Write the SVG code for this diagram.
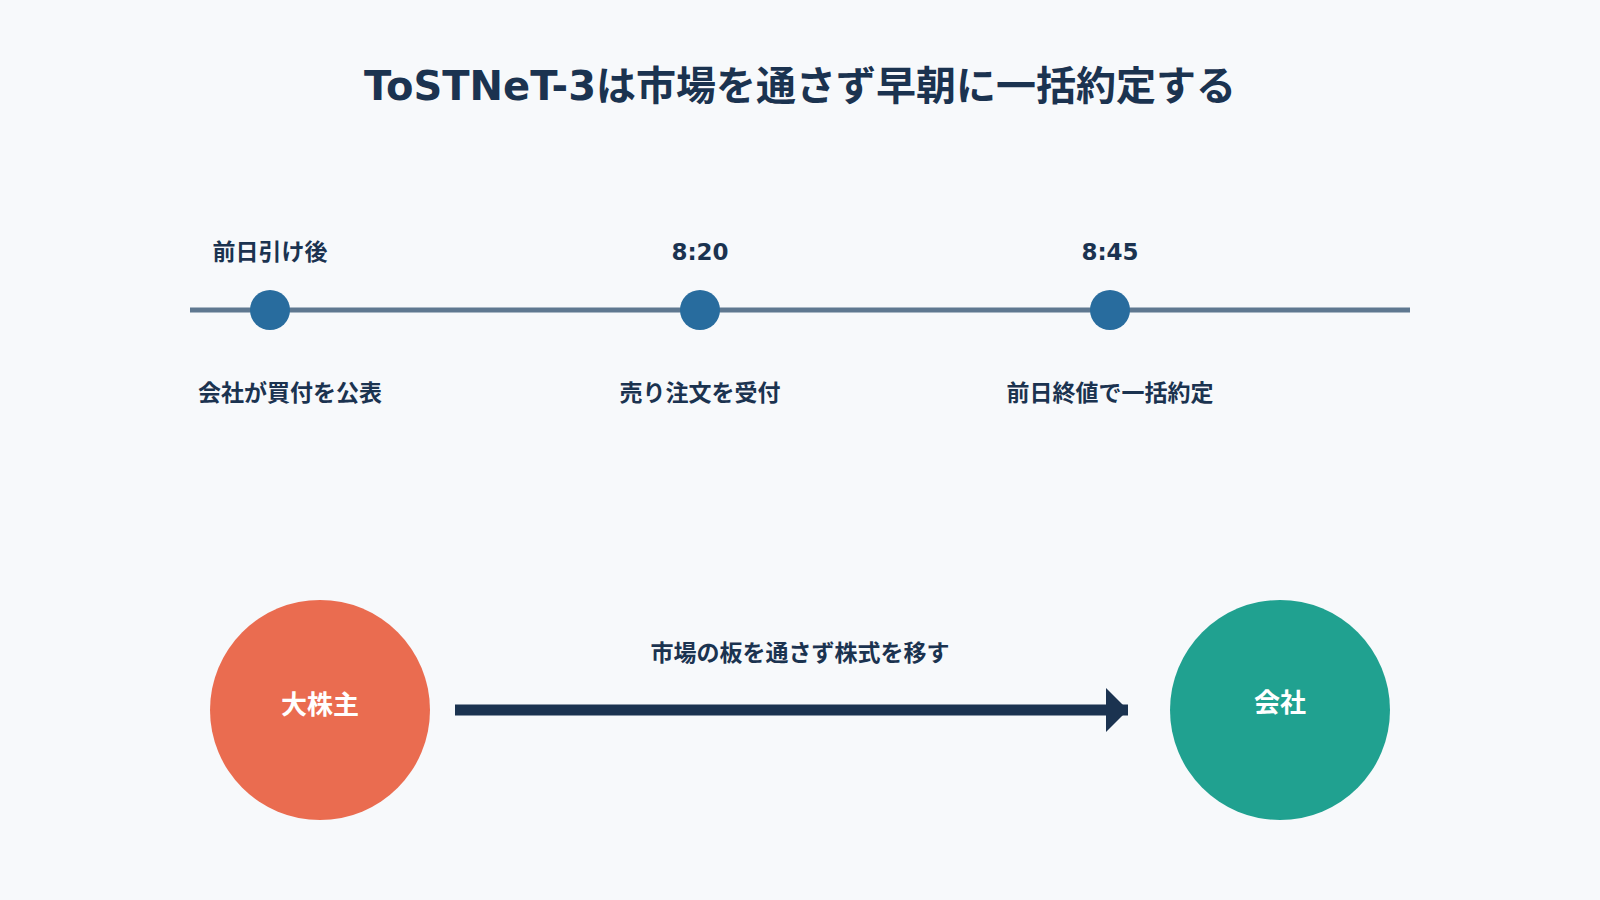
<svg xmlns="http://www.w3.org/2000/svg" width="1600" height="900" viewBox="0 0 1600 900">
<style>
text{font-family:"DejaVu Sans","Noto Sans CJK JP",sans-serif;font-weight:bold;fill:#1b3350;text-anchor:middle}
.t{font-size:40px}.l{font-size:23px}.n{font-size:26px;fill:#fff}
.dot{fill:#286c9e}
</style>
<defs><marker id="ah" markerWidth="4" markerHeight="4" refX="2" refY="2" orient="auto" markerUnits="strokeWidth"><path d="M0,0L2,2L0,4z" fill="#1b3350"/></marker></defs>
<rect width="1600" height="900" fill="#f7f9fb"/>
<text class="t" x="800" y="100">ToSTNeT-3は市場を通さず早朝に一括約定する</text>
<g id="timeline"><line x1="190" y1="310" x2="1410" y2="310" stroke="#5f7890" stroke-width="5"/></g>
<g id="t1"><circle class="dot" cx="270" cy="310" r="20"/><text class="l" x="270" y="260">前日引け後</text><text class="l" x="290" y="401">会社が買付を公表</text></g>
<g id="t2"><circle class="dot" cx="700" cy="310" r="20"/><text class="l" x="700" y="260">8:20</text><text class="l" x="700" y="401">売り注文を受付</text></g>
<g id="t3"><circle class="dot" cx="1110" cy="310" r="20"/><text class="l" x="1110" y="260">8:45</text><text class="l" x="1110" y="401">前日終値で一括約定</text></g>
<g id="holder"><circle cx="320" cy="710" r="110" fill="#ea6c50"/><text class="n" x="320" y="714">大株主</text></g>
<g id="company"><circle cx="1280" cy="710" r="110" fill="#20a190"/><text class="n" x="1280" y="712">会社</text></g>
<g id="connectors"><line x1="455" y1="710" x2="1128" y2="710" stroke="#1b3350" stroke-width="11" marker-end="url(#ah)"/><text class="l" x="800" y="661">市場の板を通さず株式を移す</text></g>
</svg>
